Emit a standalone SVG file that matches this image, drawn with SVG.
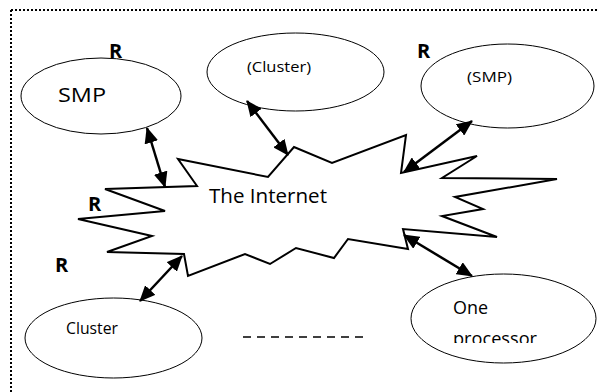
<svg xmlns="http://www.w3.org/2000/svg" width="602" height="392" viewBox="0 0 602 392">
<defs>
<style>
.node{fill:#fff;stroke:#000;stroke-width:1}
.lbl{font-family:"Open Sans","Noto Sans",sans-serif;fill:#000}
.r{font-family:"Open Sans","Noto Sans",sans-serif;font-weight:bold;font-size:20px;fill:#000}
.arr{stroke:#000;stroke-width:2.5;fill:none;marker-start:url(#ah);marker-end:url(#ah)}
</style>
<marker id="ah" markerUnits="userSpaceOnUse" markerWidth="16" markerHeight="14" viewBox="0 0 16 14" refX="15" refY="7" orient="auto-start-reverse">
<path d="M0,0 L16,7 L0,14 Z" fill="#000"/>
</marker>
<clipPath id="clipProc"><rect x="400" y="270" width="200" height="73"/></clipPath>
</defs>
<rect width="602" height="392" fill="#fff"/>
<g id="frame" fill="none" stroke="#000" stroke-width="2" stroke-dasharray="2 2">
<line x1="11" y1="10" x2="597" y2="10"/>
<line x1="11" y1="10" x2="11" y2="392"/>
</g>
<g id="internet">
<polygon points="105,189 197,186 178,159 268,177 294,147 332,163 406,135 401,173 477,156 442,178 557,179 455,197 483,209 442,216 497,237 403,229 408,249 348,239 334,258 296,248 270,264 245,254 188,276 184,254 107,252 152,236 78,219 165,211" fill="#fff" stroke="#000" stroke-width="2" stroke-linejoin="miter"/>
<text class="lbl" x="209" y="203" font-size="20.5" textLength="118" lengthAdjust="spacingAndGlyphs">The Internet</text>
</g>
<g id="smp-left">
<ellipse class="node" cx="101" cy="96" rx="80" ry="38"/>
<text class="lbl" x="58" y="102" font-size="20" textLength="48" lengthAdjust="spacingAndGlyphs">SMP</text>
</g>
<g id="cluster-top">
<ellipse class="node" cx="295.5" cy="72" rx="88.5" ry="39"/>
<text class="lbl" x="247" y="72" font-size="14" textLength="64" lengthAdjust="spacingAndGlyphs">(Cluster)</text>
</g>
<g id="smp-right">
<ellipse class="node" cx="507.5" cy="86" rx="86.5" ry="42"/>
<text class="lbl" x="467" y="82" font-size="15" textLength="45" lengthAdjust="spacingAndGlyphs">(SMP)</text>
</g>
<g id="cluster-bottom">
<ellipse class="node" cx="113.5" cy="338" rx="88.5" ry="40"/>
<text class="lbl" x="66" y="334" font-size="15.5" textLength="52" lengthAdjust="spacingAndGlyphs">Cluster</text>
</g>
<g id="one-processor">
<ellipse class="node" cx="503.5" cy="318.5" rx="92.5" ry="44.5"/>
<text class="lbl" x="453" y="314" font-size="18" textLength="35" lengthAdjust="spacingAndGlyphs">One</text>
<text class="lbl" x="453" y="345" font-size="18" textLength="84" lengthAdjust="spacingAndGlyphs" clip-path="url(#clipProc)">processor</text>
</g>
<g id="r-labels">
<text class="r" x="109" y="58">R</text>
<text class="r" x="417" y="58">R</text>
<text class="r" x="88" y="211">R</text>
<text class="r" x="55" y="272">R</text>
</g>
<g id="connectors">
<line class="arr" x1="147" y1="128" x2="165" y2="187"/>
<line class="arr" x1="247" y1="101" x2="288" y2="155"/>
<line class="arr" x1="472" y1="121" x2="404" y2="172"/>
<line class="arr" x1="182" y1="256" x2="140" y2="301"/>
<line class="arr" x1="404" y1="235" x2="472" y2="276"/>
<line x1="243" y1="337" x2="363" y2="337" stroke="#000" stroke-width="1.5" stroke-dasharray="8 6"/>
</g>
</svg>
